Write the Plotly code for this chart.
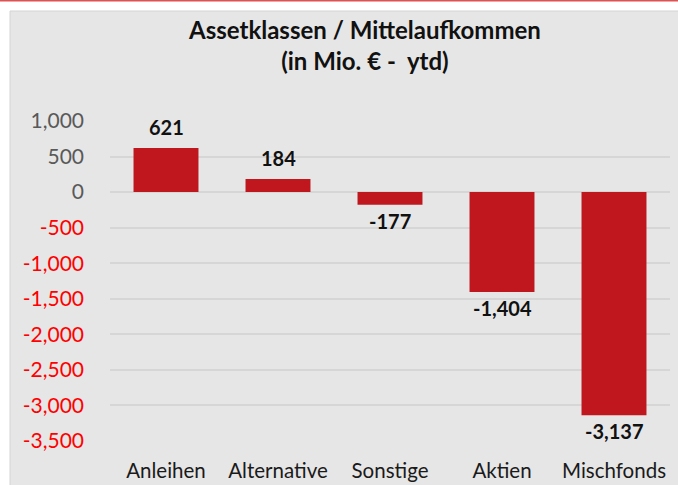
import plotly.graph_objects as go

categories = ["Anleihen", "Alternative", "Sonstige", "Aktien", "Mischfonds"]
values = [621, 184, -177, -1404, -3137]
value_labels = ["621", "184", "-177", "-1,404", "-3,137"]
tick_vals = [1000, 500, 0, -500, -1000, -1500, -2000, -2500, -3000, -3500]
title_lines = ["Assetklassen / Mittelaufkommen", "(in Mio. € -  ytd)"]

def fmt(v):
    s = f"{v:,}"
    if v < 0:
        return f"<span style='color:#ff0000'>{s}</span>"
    return s

tick_text = [fmt(v) for v in tick_vals]

FONT = "Lato"
BAR = "#c0171f"
BG = "#e6e6e6"
W, H = 678, 485
L, R, T, B = 110, 8, 121, 44
PW, PH = W - L - R, H - T - B

fig = go.Figure()
fig.add_trace(go.Bar(
    x=categories, y=values, marker_color=BAR, marker_line_width=0,
    width=0.58, hoverinfo="x+y",
))

annotations = []
for c, v, lab in zip(categories, values, value_labels):
    annotations.append(dict(
        x=c, y=v, xref="x", yref="y", text=f"<b>{lab}</b>", showarrow=False,
        yanchor="bottom" if v >= 0 else "top",
        yshift=7 if v >= 0 else -2,
        font=dict(family=FONT, size=20, color="#111111"),
    ))
annotations.append(dict(
    x=(364 - L) / PW, y=1 + (T - 44.5) / PH, xref="paper", yref="paper",
    text="<b>" + "<br>".join(title_lines) + "</b>", showarrow=False,
    xanchor="center", yanchor="middle",
    font=dict(family=FONT, size=24, color="#111111"),
))

fig.update_layout(
    width=W, height=H,
    margin=dict(l=L, r=R, t=T, b=B, autoexpand=False),
    paper_bgcolor="white", plot_bgcolor=BG,
    showlegend=False,
    font=dict(family=FONT),
    annotations=annotations,
    shapes=[
        dict(type="rect", xref="paper", yref="paper", layer="below",
             x0=(10 - L) / PW, x1=1 + (R + 2) / PW, y0=-(B + 2) / PH, y1=1 + (T - 11) / PH,
             fillcolor=BG, line=dict(color="#d4d4d4", width=1)),
        dict(type="line", xref="paper", yref="paper", layer="above",
             x0=-L / PW, x1=1 + R / PW, y0=1 + (T - 0.7) / PH, y1=1 + (T - 0.7) / PH,
             line=dict(color="#e05252", width=1.5)),
    ],
)
fig.update_yaxes(
    range=[-3500, 1000], tickvals=tick_vals, ticktext=tick_text,
    showgrid=True, gridcolor="#d6d6d6", gridwidth=1.5, zeroline=False,
    tickfont=dict(family=FONT, size=21, color="#595959"),
    ticklabelstandoff=25, showline=False,
)
fig.update_xaxes(
    showgrid=False, showline=False,
    tickfont=dict(family=FONT, size=20.5, color="#1a1a1a"),
    ticklabelstandoff=15,
)

fig.write_html("out.html", config={"displayModeBar": False},
               post_script="document.body.style.margin='0';")
